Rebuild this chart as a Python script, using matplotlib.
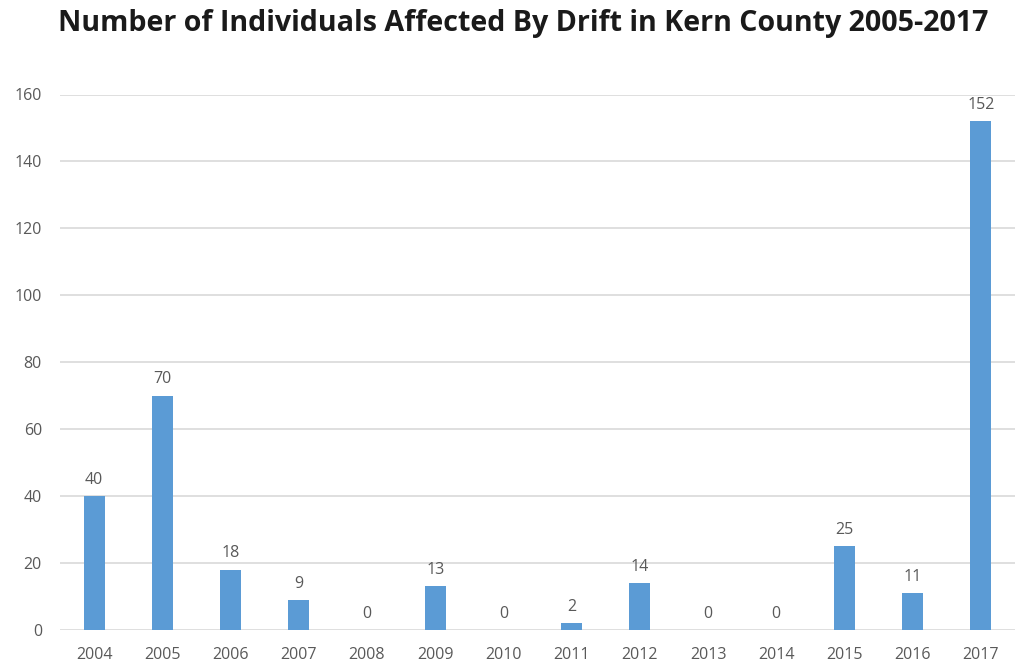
import matplotlib.pyplot as plt

years = ["2004", "2005", "2006", "2007", "2008", "2009", "2010",
         "2011", "2012", "2013", "2014", "2015", "2016", "2017"]
individuals = [40, 70, 18, 9, 0, 13, 0, 2, 14, 0, 0, 25, 11, 152]
y_ticks = [0, 20, 40, 60, 80, 100, 120, 140, 160]

BAR_COLOR = "#5B9BD5"
TEXT_COLOR = "#595959"

fig = plt.figure(figsize=(10.15, 6.63), dpi=100)
ax = fig.add_axes([60 / 1015, 1 - 630 / 663, 1 - 60 / 1015, (630 - 94.5) / 663])

x = range(len(years))
bars = ax.bar(x, individuals, width=0.31, color=BAR_COLOR, zorder=3)

for rect, val in zip(bars, individuals):
    ax.annotate(str(val), (rect.get_x() + rect.get_width() / 2, val),
                xytext=(0, 6), textcoords="offset points",
                ha="center", va="bottom", fontsize=11.5, color=TEXT_COLOR,
                family="Open Sans")

ax.set_xlim(-0.5, len(years) - 0.5)
ax.set_ylim(0, 160)
ax.set_xticks(list(x))
ax.set_xticklabels(years)
ax.set_yticks(y_ticks)

ax.grid(axis="y", color="#D9D9D9", linewidth=1.2, zorder=0)
for s in ax.spines.values():
    s.set_visible(False)
ax.tick_params(length=0, labelsize=11.5, labelcolor=TEXT_COLOR)
ax.tick_params(axis="y", pad=13)
ax.tick_params(axis="x", pad=12)
for lbl in ax.get_xticklabels() + ax.get_yticklabels():
    lbl.set_family("Open Sans")

fig.text(523 / 1015, 1 - 23 / 663, "Number of Individuals Affected By Drift in Kern County 2005-2017",
         ha="center", va="center", fontsize=20.6, fontweight="bold",
         family="Open Sans", color="#1a1a1a")

fig.savefig("out.png", dpi=100)
